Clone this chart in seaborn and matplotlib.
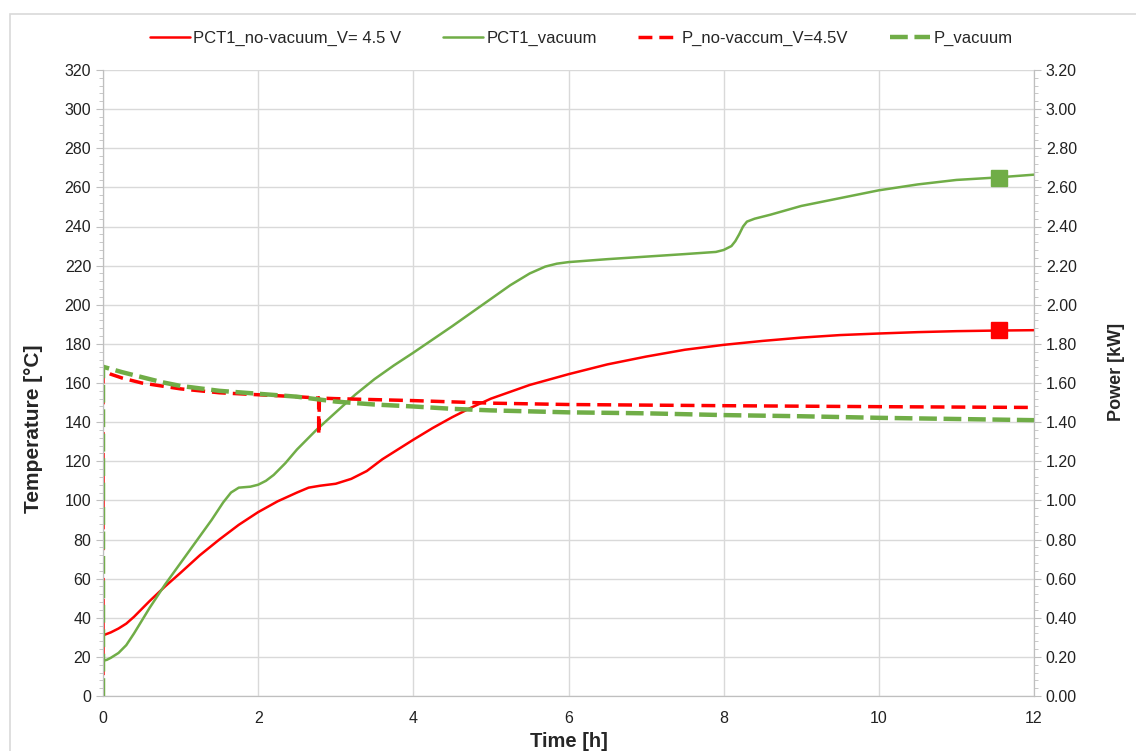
import numpy as np
import pandas as pd
import matplotlib
matplotlib.use('Agg')
import matplotlib.pyplot as plt
import seaborn as sns
from matplotlib.ticker import MultipleLocator, FormatStrFormatter
from matplotlib.patches import Rectangle

sns.set_style('white')
plt.rcParams['font.family'] = ['Liberation Sans', 'DejaVu Sans']

# temperatura sin vacio (PCT1_no-vacuum)
t_nv = [0, 0.1, 0.2, 0.3, 0.4, 0.5, 0.6, 0.8, 1, 1.25, 1.5, 1.75, 2, 2.25, 2.5, 2.65, 2.8, 3, 3.2, 3.4, 3.6,
        3.8, 4, 4.25, 4.5, 4.75, 5, 5.5, 6, 6.5, 7, 7.5, 8, 8.5, 9, 9.5, 10, 10.5, 11, 11.5, 12]
T_nv = [31, 32.5, 34.5, 37, 40.5, 44.5, 48.5, 56, 63, 72, 80, 87.5, 94, 99.5, 104, 106.5, 107.5, 108.5, 111, 115, 121,
        126, 131, 137, 142.5, 147.5, 152, 159, 164.5, 169.5, 173.5, 177, 179.5, 181.5, 183.2, 184.5, 185.3, 186, 186.5, 186.8, 187]

# temperatura con vacio (PCT1_vacuum)
t_v = [0, 0.05, 0.1, 0.2, 0.3, 0.4, 0.5, 0.6, 0.8, 1, 1.2, 1.4, 1.55, 1.65, 1.75, 1.9, 2, 2.1, 2.2, 2.35, 2.5,
       2.75, 3, 3.25, 3.5, 3.75, 4, 4.5, 5, 5.25, 5.5, 5.7, 5.85, 6, 6.5, 7, 7.5, 7.9, 8, 8.1, 8.15, 8.2, 8.25,
       8.3, 8.4, 8.6, 9, 9.5, 10, 10.5, 11, 11.5, 12]
T_v = [18, 18.5, 19.5, 22, 26, 32, 38.5, 45, 57, 68, 79, 90, 99, 104, 106.5, 107, 108, 110, 113, 119, 126,
       136, 145, 154, 162, 169, 175.5, 189, 203, 210, 216, 219.5, 221, 221.8, 223.3, 224.6, 225.9, 227, 228, 230, 232.5, 236, 240,
       242.5, 244, 246, 250.5, 254.5, 258.5, 261.5, 263.8, 265, 266.5]

# potencia sin vacio (P_no-vaccum_V=4.5V)
tp_nv = [0, 0, 0.1, 0.25, 0.5, 0.75, 1, 1.25, 1.5, 2, 2.5, 2.77, 2.78, 2.78, 2.79, 3, 3.5, 4, 5, 6, 7, 8, 10, 12]
P_nv = [0, 1.665, 1.645, 1.625, 1.60, 1.585, 1.57, 1.56, 1.55, 1.54, 1.53, 1.523, 1.523, 1.335, 1.523, 1.52, 1.515,
        1.51, 1.497, 1.49, 1.487, 1.484, 1.479, 1.475]

# potencia con vacio (P_vacuum)
tp_v = [0, 0, 0.25, 0.5, 0.75, 1, 1.5, 2, 2.5, 3, 3.5, 4, 4.5, 5, 6, 7, 8, 9, 10, 11, 12]
P_v = [0, 1.683, 1.655, 1.63, 1.605, 1.585, 1.56, 1.545, 1.53, 1.505, 1.49, 1.48, 1.468, 1.46, 1.45, 1.445, 1.436,
       1.43, 1.422, 1.416, 1.41]

# marcadores finales
mark_t = 11.55
mark_T_nv = 187
mark_T_v = 265

red = '#ff0000'
green = '#70ad47'

fig = plt.figure(figsize=(11.36, 7.51), dpi=100)
ax = fig.add_axes([103/1136, 1 - 696/751, (1034 - 103)/1136, (696 - 70)/751])
ax2 = ax.twinx()

# marco exterior del grafico
fig.patches.append(Rectangle((10/1136, -0.01), 1.0, 1 - 14/751 + 0.01, transform=fig.transFigure,
                             fill=False, edgecolor='#d9d9d9', linewidth=1.2))

sns.lineplot(x=t_nv, y=T_nv, ax=ax, color=red, linewidth=1.8, label='PCT1_no-vacuum_V= 4.5 V',
             sort=False, estimator=None)
sns.lineplot(x=t_v, y=T_v, ax=ax, color=green, linewidth=1.8, label='PCT1_vacuum',
             sort=False, estimator=None)
ax.plot([mark_t], [mark_T_nv], marker='s', markersize=11, color=red, linestyle='none')
ax.plot([mark_t], [mark_T_v], marker='s', markersize=11, color=green, linestyle='none')

sns.lineplot(x=tp_nv, y=P_nv, ax=ax2, color=red, linewidth=2.5, linestyle=(0, (4, 2)),
             label='P_no-vaccum_V=4.5V', sort=False, estimator=None)
sns.lineplot(x=tp_v, y=P_v, ax=ax2, color=green, linewidth=3.2, linestyle=(0, (4, 1.5)),
             label='P_vacuum', sort=False, estimator=None)

ax.set_xlim(0, 12)
ax.set_ylim(0, 320)
ax2.set_ylim(0, 3.2)

ax.xaxis.set_major_locator(MultipleLocator(2))
ax.xaxis.set_minor_locator(MultipleLocator(0.4))
ax.yaxis.set_major_locator(MultipleLocator(20))
ax.yaxis.set_minor_locator(MultipleLocator(4))
ax2.yaxis.set_major_locator(MultipleLocator(0.2))
ax2.yaxis.set_minor_locator(MultipleLocator(0.04))
ax2.yaxis.set_major_formatter(FormatStrFormatter('%.2f'))

ax.grid(True, which='major', color='#d9d9d9', linewidth=1)
ax.set_axisbelow(True)

for a in (ax, ax2):
    for s in a.spines.values():
        s.set_color('#bfbfbf')
    a.spines['top'].set_visible(False)
    a.tick_params(which='both', direction='out', color='#bfbfbf', labelsize=11.5, labelcolor='#222222')
    a.tick_params(which='major', length=5)
    a.tick_params(which='minor', length=3)
ax.tick_params(axis='x', pad=6)

ax.set_xlabel('Time [h]', fontsize=14.5, fontweight='bold', labelpad=4)
ax.set_ylabel('Temperature [°C]', fontsize=15, fontweight='bold')
ax.yaxis.set_label_coords(-0.064, 0.4265)
ax2.set_ylabel('Power [kW]', fontsize=13, fontweight='bold')
ax2.yaxis.set_label_coords(1.0795, 0.5176)

h1, l1 = ax.get_legend_handles_labels()
h2, l2 = ax2.get_legend_handles_labels()
ax.get_legend().remove()
ax2.get_legend().remove()
fig.legend(h1 + h2, l1 + l2, loc='center', bbox_to_anchor=(581/1136, 1 - 38/751), ncol=4, frameon=False,
           fontsize=12, handlelength=2.4, columnspacing=2.5, handletextpad=0.2)

fig.savefig('out.png', dpi=100)
